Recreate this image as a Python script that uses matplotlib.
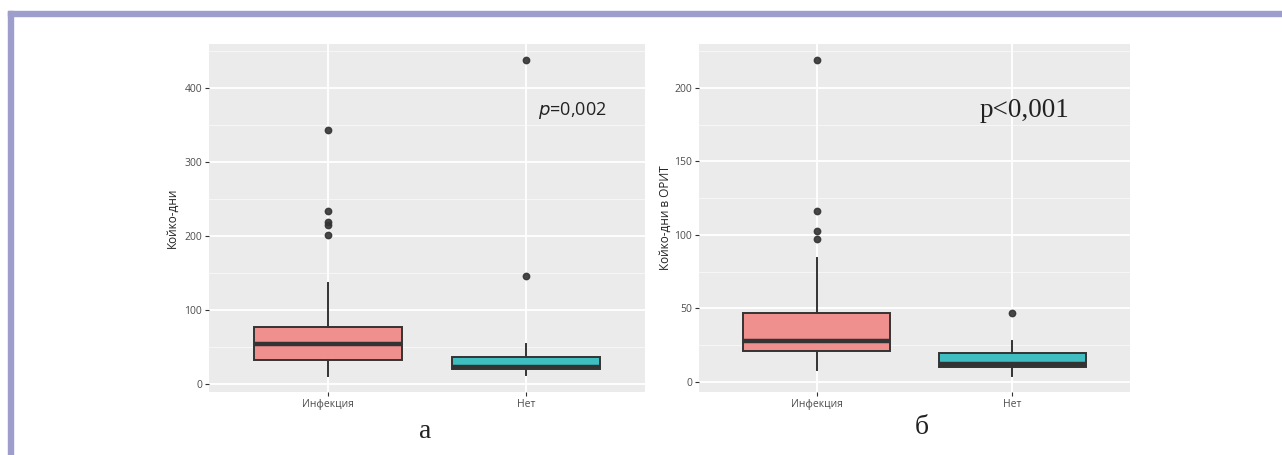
import matplotlib
matplotlib.use("Agg")
from matplotlib import pyplot as plt
from matplotlib.patches import Rectangle

# five-number summaries: low whisker, Q1, median, Q3, high whisker
groups = ["Инфекция", "Нет"]

days_inf = [10, 32.5, 53, 77, 136.5]
days_inf_out = [343, 233, 219, 215, 201]
days_net = [12, 20, 22.5, 36, 54]
days_net_out = [145, 438]

icu_inf = [8, 21, 27.6, 47, 84]
icu_inf_out = [219, 116, 103, 97]
icu_net = [4, 10.2, 12, 19.7, 27.6]
icu_net_out = [47]

days_ticks = [0, 100, 200, 300, 400]
icu_ticks = [0, 50, 100, 150, 200]

fill_colors = ["#EF8F8E", "#3EBEC0"]
edge = "#333333"
plt.rcParams['font.family'] = ['Open Sans', 'DejaVu Sans']

W, H = 1282, 455
fig = plt.figure(figsize=(W / 100, H / 100), dpi=100)

# lavender frame (top and left)
fig.patches.append(Rectangle((8 / W, 1 - 16 / H), 1, 5 / H, transform=fig.transFigure,
                             color="#9E9ECC", zorder=0))
fig.patches.append(Rectangle((8 / W, 0), 5 / W, 1 - 11 / H, transform=fig.transFigure,
                             color="#9E9ECC", zorder=0))


def stats(summary, outliers, label):
    lo, q1, med, q3, hi = summary
    return dict(whislo=lo, q1=q1, med=med, q3=q3, whishi=hi, fliers=outliers, label=label)


def panel(rect, data, ticks, ylabel, labelpad):
    x0, y0, x1, y1 = rect
    ax = fig.add_axes([x0 / W, 1 - y1 / H, (x1 - x0) / W, (y1 - y0) / H])
    ax.set_facecolor("#EBEBEB")
    for s in ax.spines.values():
        s.set_visible(False)

    vals = []
    for summ, outs in data:
        vals += summ + outs
    lo, hi = min(vals), max(vals)
    pad = (hi - lo) * 0.05
    ax.set_ylim(lo - pad, hi + pad)
    ax.set_xlim(0.4, 2.6)

    # grid like ggplot: major + minor white lines
    step = ticks[1] - ticks[0]
    for t in ticks:
        ax.axhline(t, color="white", lw=1.3, zorder=0)
    for t in ticks + [ticks[-1] + step]:
        m = t - step / 2
        if lo - pad < m < hi + pad:
            ax.axhline(m, color="#F7F7F7", lw=0.7, zorder=0)
    for xp in (1, 2):
        ax.axvline(xp, color="white", lw=1.3, zorder=0)

    bs = [stats(d[0], d[1], g) for d, g in zip(data, groups)]
    res = ax.bxp(bs, positions=[1, 2], widths=0.75, patch_artist=True, showcaps=False,
                 boxprops=dict(edgecolor=edge, linewidth=1.4),
                 whiskerprops=dict(color=edge, linewidth=1.4),
                 medianprops=dict(color=edge, linewidth=3.2, solid_capstyle="butt"),
                 flierprops=dict(marker="o", markerfacecolor=edge, markeredgecolor=edge,
                                 markersize=4.6, alpha=0.9),
                 zorder=3)
    for patch, c in zip(res["boxes"], fill_colors):
        patch.set_facecolor(c)

    ax.set_yticks(ticks)
    ax.set_xticks([1, 2], groups)
    ax.tick_params(axis="both", length=3, width=0.8, color="#333333",
                   labelcolor="#4D4D4D", labelsize=7.5, pad=2)
    ax.set_ylabel(ylabel, fontsize=8.5, color="#222222", labelpad=labelpad)
    return ax


ax1 = panel((209, 44, 645, 392), [(days_inf, days_inf_out), (days_net, days_net_out)],
            days_ticks, "Койко-дни", 4)
ax2 = panel((699, 44, 1130, 392), [(icu_inf, icu_inf_out), (icu_net, icu_net_out)],
            icu_ticks, "Койко-дни в ОРИТ", 2)

ax1.text(0.755, 0.81, "$\\it{p}$=0,002", transform=ax1.transAxes, fontsize=13,
         color="#222222", ha="left", va="center")
ax2.text(0.65, 0.81, "p<0,001", transform=ax2.transAxes, fontsize=19.5,
         family="Liberation Serif", color="#222222", ha="left", va="center")

fig.text(425 / W, 1 - 432 / H, "а", fontsize=20, family="Liberation Serif",
         ha="center", va="center", color="#222222")
fig.text(922 / W, 1 - 428 / H, "б", fontsize=20, family="Liberation Serif",
         ha="center", va="center", color="#222222")

fig.savefig("out.png", dpi=100)
